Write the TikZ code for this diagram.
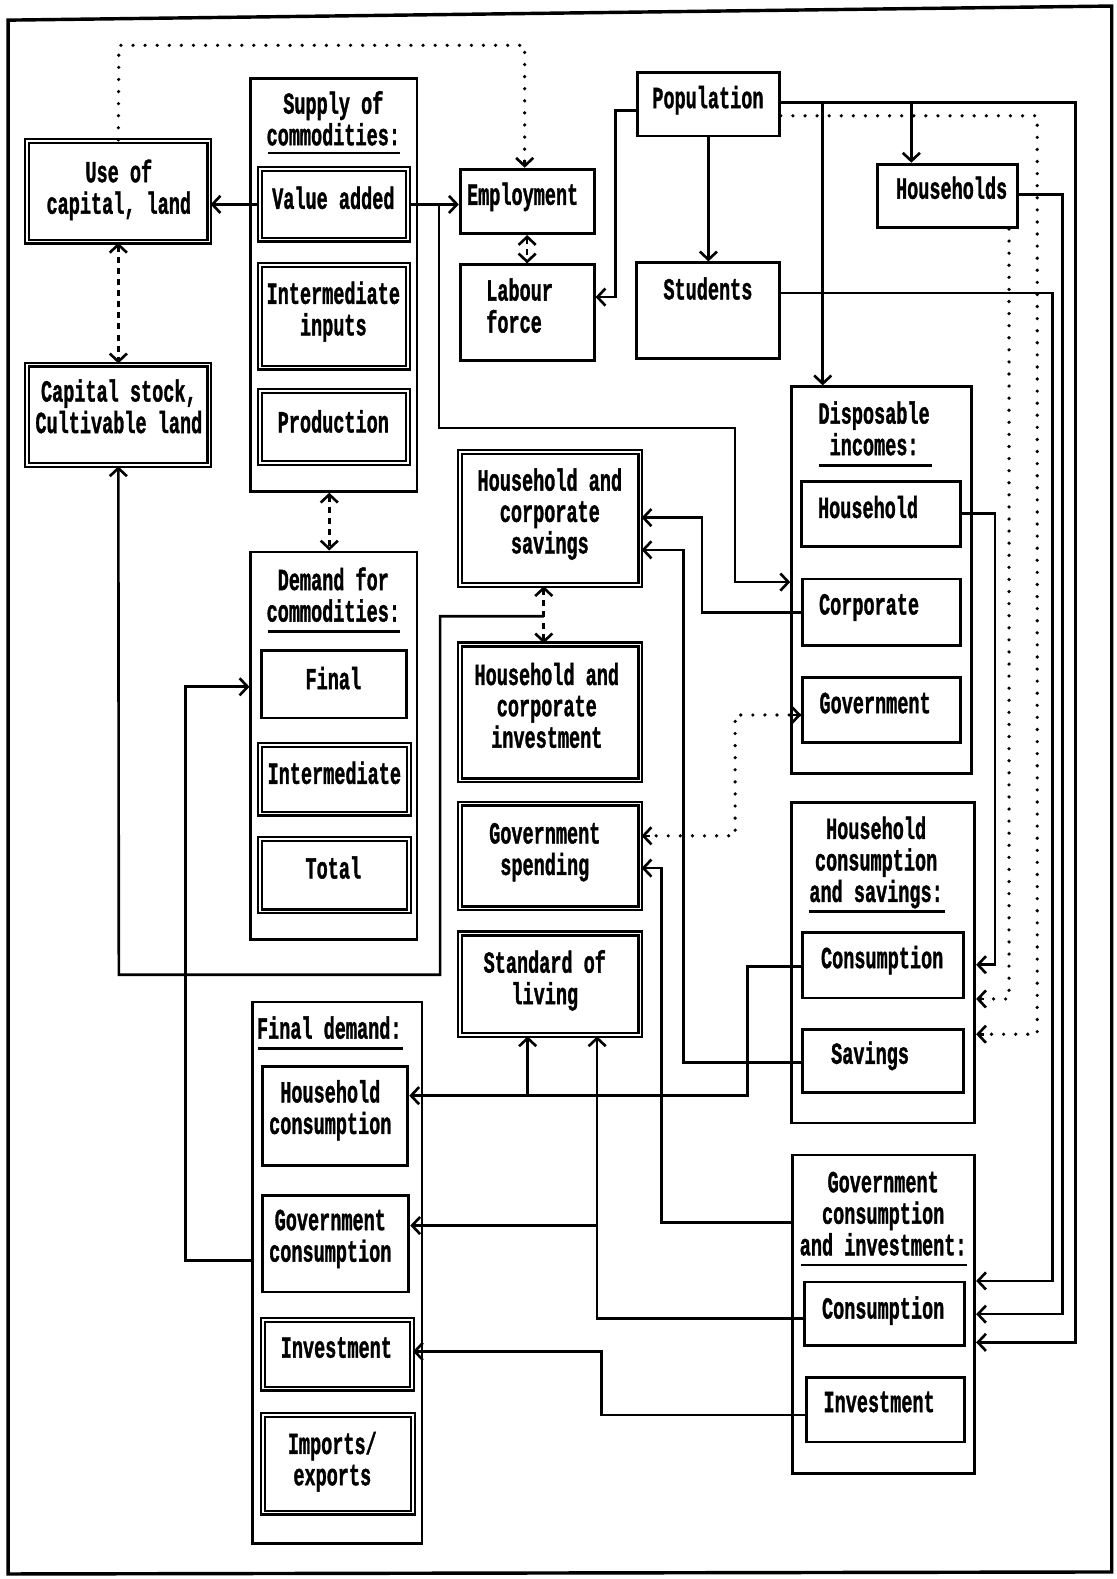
\documentclass[tikz,border=0pt]{standalone}
\usepackage{fontspec}
\usepackage{graphicx}
\usetikzlibrary{arrows.meta,fit}
\newfontfamily\mono{Liberation Mono}[BoldFeatures={FakeBold=1.6}]
\newcommand\tx[2][c]{\scalebox{1}[1.65]{\begin{tabular}{@{}#1@{}}#2\end{tabular}}}
\tikzset{
 bt/.tip={Straight Barb[length=8pt,width=17pt,line width=2.6pt]},
 box/.style={draw, line width=2.8pt, inner sep=0pt},
 dbox/.style={draw, double, line width=2.2pt, double distance=1.6pt, inner sep=0pt},
 cont/.style={draw, line width=2.6pt, inner sep=0pt},
 txt/.style={inner sep=0pt, font=\mono\bfseries\fontsize{18.4}{18.8}\selectfont},
 conn/.style={line width=2.6pt, line join=miter},
 arr/.style={conn, -{bt}},
 darr/.style={line width=2.6pt, dash pattern=on 6pt off 5pt, {bt}-{bt}},
 dots/.style={line width=3.6pt, line cap=round, dash pattern=on 0pt off 12pt},
 uline/.style={line width=2.6pt},
}
\begin{document}
\begin{tikzpicture}[x=1pt,y=-1pt]
\useasboundingbox (0,0) rectangle (1109,1568);
% frame
\draw[line width=3.4pt] (8,20) -- (1104,6) -- (1104,1561) -- (8,1563) -- cycle;

% left column
\node[dbox, fit={(27,140) (208,240)}] (use) {};
\node[txt] (use-t) at (118,190) {\tx{Use of\\capital, land}};
\node[dbox, fit={(27,362) (208,462)}] (cap) {};
\node[txt] (cap-t) at (118,408) {\tx{Capital stock,\\Cultivable land}};

% supply of commodities
\node[cont, fit={(249,78) (414,488)}] (sup) {};
\node[txt] (sup-t) at (331,122) {\tx{Supply of\\commodities:}};
\draw[uline] (266,152) -- (397,152);
\node[dbox, fit={(258,168) (405,238)}] (va) {};
\node[txt] (va-t) at (331,201) {\tx{Value added}};
\node[dbox, fit={(258,263) (405,365)}] (ii) {};
\node[txt] (ii-t) at (331,311) {\tx{Intermediate\\inputs}};
\node[dbox, fit={(258,388) (405,460)}] (prod) {};
\node[txt] (prod-t) at (331,423) {\tx{Production}};

% demand for commodities
\node[cont, fit={(249,548) (414,933)}] (dem) {};
\node[txt] (dem-t) at (331,595) {\tx{Demand for\\commodities:}};
\draw[uline] (266,627) -- (397,627);
\node[box, fit={(260,646) (404,713)}] (fin) {};
\node[txt] (fin-t) at (331,678) {\tx{Final}};
\node[dbox, fit={(258,740) (406,808)}] (inter) {};
\node[txt] (inter-t) at (332,772) {\tx{Intermediate}};
\node[dbox, fit={(258,833) (406,905)}] (tot) {};
\node[txt] (tot-t) at (331,866) {\tx{Total}};

% final demand
\node[cont, fit={(251,995) (419,1533)}] (fd) {};
\node[txt, anchor=west] (fd-t) at (255,1025) {\tx{Final demand:}};
\draw[uline] (256,1041) -- (400,1041);
\node[box, fit={(261,1059) (405,1157)}] (fhc) {};
\node[txt] (fhc-t) at (328,1104) {\tx{Household\\consumption}};
\node[box, fit={(261,1187) (406,1283)}] (fgc) {};
\node[txt] (fgc-t) at (328,1231) {\tx{Government\\consumption}};
\node[dbox, fit={(261,1311) (409,1379)}] (fiv) {};
\node[txt] (fiv-t) at (334,1342) {\tx{Investment}};
\node[dbox, fit={(261,1405) (410,1502)}] (fie) {};
\node[txt] (fie-t) at (330,1453) {\tx{Imports/\\exports}};

% employment etc.
\node[box, fit={(457,168) (590,232)}] (emp) {};
\node[txt] (emp-t) at (519,197) {\tx{Employment}};
\node[box, fit={(457,263) (590,358)}] (lab) {};
\node[txt] (lab-t) at (516,308) {\tx[l]{Labour\\force}};
\node[box, fit={(633,72) (774,135)}] (pop) {};
\node[txt] (pop-t) at (703,101) {\tx{Population}};
\node[box, fit={(632,261) (774,356)}] (stu) {};
\node[txt] (stu-t) at (703,291) {\tx{Students}};
\node[box, fit={(871,163) (1010,226)}] (hh) {};
\node[txt] (hh-t) at (945,191) {\tx{Households}};

% middle column
\node[dbox, fit={(457,449) (636,581)}] (hcs) {};
\node[txt] (hcs-t) at (546,512) {\tx{Household and\\corporate\\savings}};
\node[dbox, fit={(457,640) (636,775)}] (hci) {};
\node[txt] (hci-t) at (543,705) {\tx{Household and\\corporate\\investment}};
\node[dbox, fit={(457,798) (636,902)}] (gs) {};
\node[txt] (gs-t) at (541,847) {\tx{Government\\spending}};
\node[dbox, fit={(457,927) (636,1028)}] (sol) {};
\node[txt] (sol-t) at (541,975) {\tx{Standard of\\living}};

% disposable incomes
\node[cont, fit={(786,384) (965,768)}] (di) {};
\node[txt] (di-t) at (868,430) {\tx{Disposable\\incomes:}};
\draw[uline] (813,462) -- (925,462);
\node[box, fit={(796,478) (954,543)}] (dh) {};
\node[txt] (dh-t) at (862,508) {\tx{Household}};
\node[box, fit={(797,575) (954,641)}] (dc) {};
\node[txt] (dc-t) at (863,604) {\tx{Corporate}};
\node[box, fit={(797,673) (954,737)}] (dg) {};
\node[txt] (dg-t) at (869,702) {\tx{Government}};

% household consumption and savings
\node[cont, fit={(786,797) (968,1115)}] (hs) {};
\node[txt] (hs-t) at (870,858) {\tx{Household\\consumption\\and savings:}};
\draw[uline] (803,905) -- (938,905);
\node[box, fit={(797,926) (957,991)}] (hsc) {};
\node[txt] (hsc-t) at (876,955) {\tx{Consumption}};
\node[box, fit={(797,1022) (957,1085)}] (hss) {};
\node[txt] (hss-t) at (864,1050) {\tx{Savings}};

% government consumption and investment
\node[cont, fit={(787,1147) (968,1463)}] (gci) {};
\node[txt] (gci-t) at (877,1209) {\tx{Government\\consumption\\and investment:}};
\draw[uline] (795,1256) -- (960,1256);
\node[box, fit={(799,1273) (958,1336)}] (gcc) {};
\node[txt] (gcc-t) at (877,1303) {\tx{Consumption}};
\node[box, fit={(801,1368) (958,1432)}] (gcv) {};
\node[txt] (gcv-t) at (873,1396) {\tx{Investment}};

% ---------- connectors ----------
% dotted: use -> employment
\coordinate (d1) at (118,45);
\coordinate (d2) at (521,45);
\draw[dots] (use.north) -- (d1) -- (d2) -- (d2 |- emp.north);
\draw[conn, -{bt}] ([yshift=8pt]d2 |- emp.north) -- (d2 |- emp.north);

\draw[darr] (use.south) -- (cap.south |- cap.north);
\draw[arr] (va.west) -- (use.east |- va.west);
\draw[arr] (va.east) -- (emp.west |- va.east);
\coordinate (j1) at (436,203);
\draw[arr] (j1) -- (436,425) -- (730,425) -- (730,578) -- (di.west |- 0,578);
\draw[darr] (sup.south -| 327,0) -- (dem.north -| 327,0);
\draw[darr] (emp.south) -- (lab.north);
\draw[arr] (pop.west |- 0,110) -- (611,110) -- (611,295) -- (lab.east |- 0,295);
\draw[arr] (pop.south) -- (stu.north -| pop.south);
\draw[arr] (pop.east |- 0,102) -- (1068,102) -- (1068,1333) -- (gci.east |- 0,1333);
\draw[arr] (817,102) -- (di.north -| 817,0);
\draw[arr] (905,102) -- (hh.north -| 905,0);
% dotted to household consumption and savings
\coordinate (d3) at (1030,115);
\draw[dots] (pop.east |- d3) -- (d3) -- (1030,1027) -- (hs.east |- 0,1027);
\draw[conn, -{bt}] ([xshift=8pt]hs.east |- 0,1027) -- (hs.east |- 0,1027);
\coordinate (d4) at (1002,992);
\draw[dots] (hh.south -| d4) -- (d4) -- (hs.east |- d4);
\draw[conn, -{bt}] ([xshift=8pt]hs.east |- d4) -- (hs.east |- d4);
% solid to gov consumption & investment
\draw[arr] (hh.east |- 0,193) -- (1055,193) -- (1055,1305) -- (gci.east |- 0,1305);
\draw[arr] (stu.east |- 0,291) -- (1045,291) -- (1045,1272) -- (gci.east |- 0,1272);
% household income -> consumption
\draw[arr] (dh.east |- 0,510) -- (988,510) -- (988,958) -- (hs.east |- 0,958);
% corporate -> savings box
\draw[arr] (dc.west |- 0,608) -- (697,608) -- (697,514) -- (hcs.east |- 0,514);
\draw[arr] (hss.west |- 0,1055) -- (679,1055) -- (679,546) -- (hcs.east |- 0,546);
% savings <-> investment, and link to capital stock
\draw[darr] (hcs.south -| 540,0) -- (hci.north -| 540,0);
\coordinate (j2) at (540,612);
\draw[arr] (j2) -- (437,612) -- (437,968) -- (118,968) -- (cap.south);
% government income <-> government spending (dotted)
\coordinate (d5) at (730,710);
\coordinate (d6) at (730,830);
\draw[dots] (dg.west |- d5) -- (d5) -- (d6) -- (gs.east |- d6);
\draw[conn, -{bt}] ([xshift=-8pt]dg.west |- d5) -- (dg.west |- d5);
\draw[conn, -{bt}] ([xshift=8pt]gs.east |- d6) -- (gs.east |- d6);
% gov c&i -> gov spending
\draw[arr] (gci.west |- 0,1214) -- (657,1214) -- (657,862) -- (gs.east |- 0,862);
% household consumption -> final demand, standard of living
\draw[arr] (hsc.west |- 0,960) -- (742,960) -- (742,1088) -- (fhc.east |- 0,1088);
\draw[arr] (524,1088) -- (sol.south -| 524,0);
% gov consumption -> final demand, standard of living
\draw[arr] (gcc.west |- 0,1309) -- (593,1309) -- (sol.south -| 593,0);
\draw[arr] (593,1217) -- (fgc.east |- 0,1217);
% gov investment -> investment
\draw[arr] (gcv.west |- 0,1405) -- (597,1405) -- (597,1342) -- (fiv.east |- 0,1342);
% final demand -> demand for commodities
\draw[arr] (fd.west |- 0,1252) -- (184,1252) -- (184,682) -- (dem.west |- 0,682);
\end{tikzpicture}
\end{document}
